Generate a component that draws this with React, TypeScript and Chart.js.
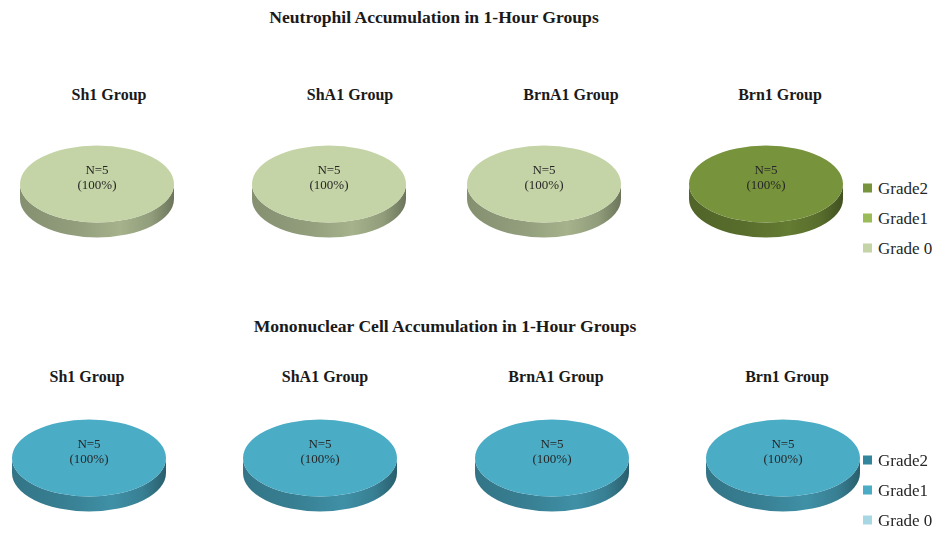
import React, { useEffect, useRef } from "react";
import { Chart, registerables } from "chart.js";

Chart.register(...registerables);

// ---- data ----
const groups = ["Sh1 Group", "ShA1 Group", "BrnA1 Group", "Brn1 Group"];
const grades = ["Grade2", "Grade1", "Grade 0"];

const neutrophilTitle = "Neutrophil Accumulation in 1-Hour Groups";
const neutrophilGrade2 = [0, 0, 0, 5];
const neutrophilGrade1 = [0, 0, 0, 0];
const neutrophilGrade0 = [5, 5, 5, 0];

const mononuclearTitle = "Mononuclear Cell Accumulation in 1-Hour Groups";
const mononuclearGrade2 = [0, 0, 0, 0];
const mononuclearGrade1 = [5, 5, 5, 5];
const mononuclearGrade0 = [0, 0, 0, 0];

// colours per grade (Grade2, Grade1, Grade 0)
const neutrophilColors = ["#77933C", "#9BBB59", "#C4D4A6"];
const mononuclearColors = ["#31859C", "#4BACC6", "#A8D7E4"];

const SERIF = '"Liberation Serif", "Times New Roman", Times, serif';

function shade(hex: string, f: number): string {
  const n = parseInt(hex.slice(1), 16);
  const r = Math.round(((n >> 16) & 255) * f);
  const g = Math.round(((n >> 8) & 255) * f);
  const b = Math.round((n & 255) * f);
  return `rgb(${r},${g},${b})`;
}

// Squashes the pie into a tilted disc and paints its front wall.
const tiltPlugin = {
  id: "tilt",
  beforeDatasetsDraw(chart: any, _args: any, opts: any) {
    const ctx = chart.ctx as CanvasRenderingContext2D;
    const meta = chart.getDatasetMeta(0);
    const ds = chart.data.datasets[0];
    const first = meta.data[0];
    if (!first) return;
    const { x, y } = first.getProps(["x", "y"], true);
    const k = opts.ratio;
    const depth = opts.depth;
    ctx.save();
    meta.data.forEach((arc: any, i: number) => {
      const p = arc.getProps(["startAngle", "endAngle", "outerRadius", "circumference"], true);
      if (p.circumference <= 0) return;
      const lo = Math.max(p.startAngle, 0);
      const hi = Math.min(p.endAngle, Math.PI);
      if (hi <= lo) return;
      const r = p.outerRadius;
      const ry = r * k;
      const base = ds.backgroundColor[i];
      const g = ctx.createLinearGradient(x - r, 0, x + r, 0);
      g.addColorStop(0, shade(base, 0.68));
      g.addColorStop(0.35, shade(base, 0.74));
      g.addColorStop(0.65, shade(base, 0.84));
      g.addColorStop(0.85, shade(base, 0.74));
      g.addColorStop(1, shade(base, 0.55));
      ctx.beginPath();
      ctx.ellipse(x, y, r, ry, 0, lo, hi);
      ctx.ellipse(x, y + depth, r, ry, 0, hi, lo, true);
      ctx.closePath();
      ctx.fillStyle = g;
      ctx.fill();
    });
    ctx.translate(x, y);
    ctx.scale(1, k);
    ctx.translate(-x, -y);
  },
  afterDatasetsDraw(chart: any, _args: any, opts: any) {
    const ctx = chart.ctx as CanvasRenderingContext2D;
    ctx.restore();
    const meta = chart.getDatasetMeta(0);
    const values: number[] = chart.data.datasets[0].data;
    const total = values.reduce((s, v) => s + v, 0);
    ctx.save();
    ctx.fillStyle = "#262626";
    ctx.font = `13px ${SERIF}`;
    ctx.textAlign = "center";
    ctx.textBaseline = "middle";
    meta.data.forEach((arc: any, i: number) => {
      const v = values[i];
      if (!v) return;
      const p = arc.getProps(["x", "y", "circumference", "outerRadius"], true);
      let lx = p.x;
      let ly = p.y + opts.labelOffset;
      if (p.circumference < Math.PI * 2 - 1e-6) {
        const tp = arc.tooltipPosition();
        lx = tp.x;
        ly = p.y + (tp.y - p.y) * opts.ratio;
      }
      const pct = Math.round((v / total) * 100);
      ctx.fillText(`N=${v}`, lx, ly - 7.5);
      ctx.fillText(`(${pct}%)`, lx, ly + 7.5);
    });
    ctx.restore();
  },
};

const CANVAS = 172;

function TiltedPie(props: { values: number[]; colors: string[]; cx: number; cy: number }) {
  const ref = useRef<HTMLCanvasElement>(null);
  useEffect(() => {
    const chart = new Chart(ref.current as HTMLCanvasElement, {
      type: "pie",
      data: {
        labels: grades,
        datasets: [
          {
            data: props.values,
            backgroundColor: props.colors,
            borderWidth: 0,
          },
        ],
      },
      options: {
        responsive: false,
        animation: false,
        events: [],
        layout: { padding: 9 },
        plugins: {
          legend: { display: false },
          tooltip: { enabled: false },
          tilt: { ratio: 0.5, depth: 15, labelOffset: -6 },
        } as any,
      },
      plugins: [tiltPlugin as any],
    });
    return () => chart.destroy();
  }, []);
  return (
    <canvas
      ref={ref}
      width={CANVAS}
      height={CANVAS}
      style={{
        position: "absolute",
        left: props.cx - CANVAS / 2,
        top: props.cy - CANVAS / 2,
        width: CANVAS,
        height: CANVAS,
      }}
    />
  );
}

function Label(props: { text: string; x: number; y: number; size: number; bold?: boolean }) {
  return (
    <div
      style={{
        position: "absolute",
        left: props.x,
        top: props.y,
        transform: "translate(-50%, -50%)",
        whiteSpace: "nowrap",
        fontFamily: SERIF,
        fontSize: props.size,
        fontWeight: props.bold ? "bold" : "normal",
        color: "#1a1a1a",
        lineHeight: 1,
      }}
    >
      {props.text}
    </div>
  );
}

function Legend(props: { colors: string[]; x: number; ys: number[] }) {
  return (
    <>
      {grades.map((g, i) => (
        <div
          key={g}
          style={{
            position: "absolute",
            left: props.x,
            top: props.ys[i],
            transform: "translateY(-50%)",
            display: "flex",
            alignItems: "center",
            whiteSpace: "nowrap",
            fontFamily: SERIF,
            fontSize: 17,
            color: "#262626",
            lineHeight: 1,
          }}
        >
          <span
            style={{
              display: "inline-block",
              width: 9,
              height: 9,
              background: props.colors[i],
              marginRight: 6,
            }}
          />
          {g}
        </div>
      ))}
    </>
  );
}

function Row(props: {
  title: string;
  titleX: number;
  titleY: number;
  g2: number[];
  g1: number[];
  g0: number[];
  colors: string[];
  pieX: number[];
  pieY: number;
  nameX: number[];
  nameY: number;
  legendYs: number[];
}) {
  return (
    <>
      <Label text={props.title} x={props.titleX} y={props.titleY} size={17.6} bold />
      {groups.map((name, i) => (
        <React.Fragment key={name}>
          <Label text={name} x={props.nameX[i]} y={props.nameY} size={16} bold />
          <TiltedPie
            values={[props.g2[i], props.g1[i], props.g0[i]]}
            colors={props.colors}
            cx={props.pieX[i]}
            cy={props.pieY}
          />
        </React.Fragment>
      ))}
      <Legend colors={props.colors} x={863} ys={props.legendYs} />
    </>
  );
}

export default function App() {
  return (
    <div
      style={{
        position: "absolute",
        left: 0,
        top: 0,
        width: 945,
        height: 534,
        background: "#ffffff",
        overflow: "hidden",
      }}
    >
      <Row
        title={neutrophilTitle}
        titleX={434}
        titleY={18}
        g2={neutrophilGrade2}
        g1={neutrophilGrade1}
        g0={neutrophilGrade0}
        colors={neutrophilColors}
        pieX={[97, 329, 544, 766]}
        pieY={184}
        nameX={[109, 350, 571, 780]}
        nameY={95}
        legendYs={[188, 218, 248]}
      />
      <Row
        title={mononuclearTitle}
        titleX={445}
        titleY={327}
        g2={mononuclearGrade2}
        g1={mononuclearGrade1}
        g0={mononuclearGrade0}
        colors={mononuclearColors}
        pieX={[89, 320, 552, 783]}
        pieY={458}
        nameX={[87, 325, 556, 787]}
        nameY={377}
        legendYs={[460, 490, 520]}
      />
    </div>
  );
}
